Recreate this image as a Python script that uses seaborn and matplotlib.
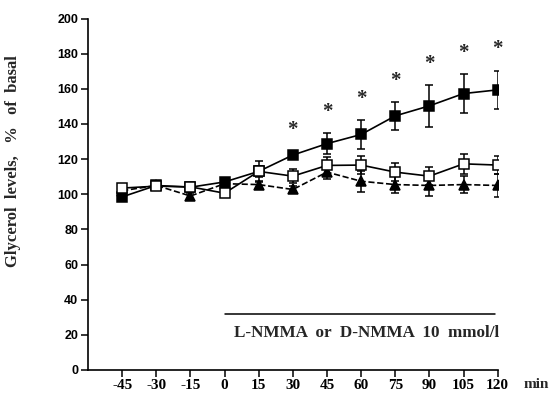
import numpy as np
import pandas as pd
import matplotlib
matplotlib.use("Agg")
import matplotlib.pyplot as plt
import seaborn as sns

# ==========================================
# Data
# ==========================================
time_min = [-45, -30, -15, 0, 15, 30, 45, 60, 75, 90, 105, 120]

# filled squares
lnmma_mean = [98.5, 105, 104, 107, 113, 122.3, 128.8, 134, 144.6, 150.3, 157.3, 159.4]
lnmma_sem = [1.5, 1.5, 1.5, 2, 3, 2, 6, 8, 8, 12, 11, 11]

# open squares
dnmma_mean = [103.5, 104.6, 104.2, 100.6, 113, 110.3, 116.4, 116.6, 112.6, 110.3, 117.3, 116.6]
dnmma_sem = [1.5, 1.5, 1.5, 2, 6, 4, 5, 5, 5, 5, 5.5, 5]

# filled triangles (dashed)
ctrl_mean = [102, 105, 99, 106, 105.5, 102.7, 112.6, 107.4, 105.5, 105, 105.5, 105]
ctrl_sem = [1.5, 1.5, 1.5, 2, 2, 2, 4, 6, 5, 6, 5, 6.5]

# time points marked with an asterisk
signif_min = [30, 45, 60, 75, 90, 105, 120]

x_ticks = [-45, -30, -15, 0, 15, 30, 45, 60, 75, 90, 105, 120]
y_ticks = list(range(0, 201, 20))

df = pd.DataFrame({"time": time_min * 3,
                   "value": lnmma_mean + dnmma_mean + ctrl_mean,
                   "sem": lnmma_sem + dnmma_sem + ctrl_sem,
                   "group": ["L"] * 12 + ["D"] * 12 + ["C"] * 12})

# ==========================================
# Plot
# ==========================================
sns.set_style("ticks")
plt.rcParams["font.family"] = ["Liberation Serif", "DejaVu Serif"]

fig = plt.figure(figsize=(5.57, 3.94), dpi=100)
ax = fig.add_axes([0.158, 0.061, 0.7355, 0.892])

styles = {
    "C": dict(marker="^", mfc="black", ls="--", z=2),
    "L": dict(marker="s", mfc="black", ls="-", z=3),
    "D": dict(marker="s", mfc="white", ls="-", z=4),
}
for grp in ["C", "L", "D"]:
    st = styles[grp]
    sub = df[df["group"] == grp]
    ax.errorbar(sub["time"], sub["value"], yerr=sub["sem"], fmt="none",
                ecolor="black", elinewidth=1.1, capsize=3, capthick=1.1,
                zorder=st["z"])
    sns.lineplot(data=sub, x="time", y="value", ax=ax, color="black",
                 linestyle=st["ls"], linewidth=1.2, marker=st["marker"],
                 markersize=7, markerfacecolor=st["mfc"],
                 markeredgecolor="black", markeredgewidth=1.1,
                 zorder=st["z"], legend=False)

# asterisks above the filled squares
lsub = df[df["group"] == "L"].set_index("time")
for t in signif_min:
    ax.text(t, lsub.loc[t, "value"] + lsub.loc[t, "sem"] + 12, "*",
            ha="center", va="center", fontsize=15, fontweight="bold")

# infusion bar
ax.plot([0, 119], [32, 32], color="black", lw=1.1)
ax.text(4, 21, "L-NMMA  or  D-NMMA  10  mmol/l", ha="left", va="center",
        fontsize=12.3, fontweight="bold")

ax.set_xlim(-60, 120)
ax.set_ylim(0, 200)
ax.set_xticks(x_ticks)
ax.set_yticks(y_ticks)
ax.set_xticklabels([str(t) for t in x_ticks], fontsize=11, fontweight="bold")
ax.set_yticklabels([str(t) for t in y_ticks], fontsize=9, fontweight="bold",
                   family="Liberation Sans")
ax.tick_params(axis="both", direction="out", length=5, width=1.1,
               colors="black", pad=2)
ax.tick_params(axis="x", pad=1.5)
ax.set_xlabel("")
ax.set_ylabel("Glycerol  levels,   %   of  basal", fontsize=12,
              fontweight="bold")
ax.yaxis.set_label_coords(-0.163, 0.595)
ax.text(1.062, -0.04, "min", transform=ax.transAxes, ha="left", va="center",
        fontsize=11, fontweight="bold")

sns.despine(ax=ax)
for side in ["left", "bottom"]:
    ax.spines[side].set_linewidth(1.2)
    ax.spines[side].set_color("black")

fig.savefig("out.png", dpi=100)
plt.close(fig)
